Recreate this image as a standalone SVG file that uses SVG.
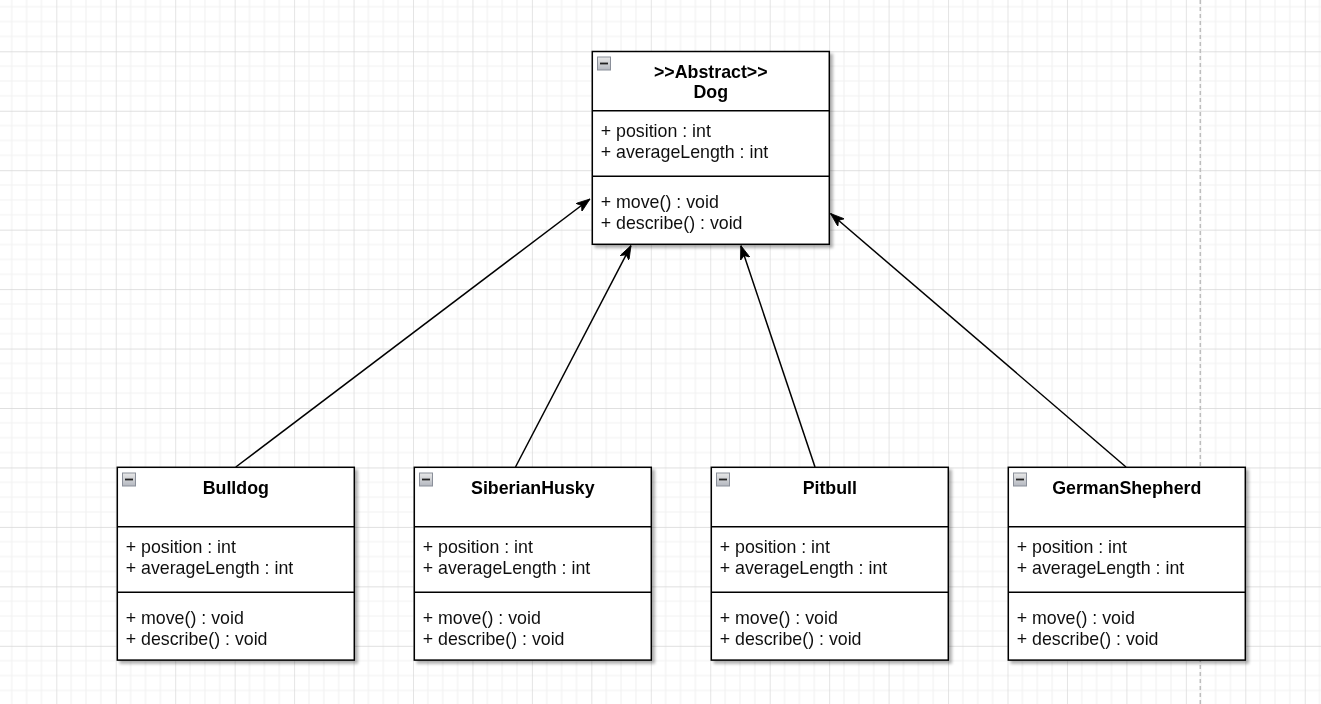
<svg xmlns="http://www.w3.org/2000/svg" width="1321" height="704" viewBox="0 0 1321 704">
<style>
.box{fill:#fff;stroke:#000;stroke-width:1.5}
.div{stroke:#000;stroke-width:1.5}
.hd{font-family:"Liberation Sans",Arial,sans-serif;font-weight:bold;font-size:17.8px;text-anchor:middle;fill:#000}
.tx{font-family:"Liberation Sans",Arial,sans-serif;font-size:17.8px;fill:#111}
.icon{fill:url(#ig);stroke:#8a8f99;stroke-width:1}
.dash{stroke:#222;stroke-width:1.8}
.conn{stroke:#000;stroke-width:1.5;fill:none;marker-end:url(#arr)}
.node{filter:url(#sh)}
</style>
<defs>
<pattern id="grid" patternUnits="userSpaceOnUse" x="56.3" y="51.3" width="59.45" height="59.45">
<path d="M14.86 0V59.45M29.73 0V59.45M44.59 0V59.45M0 14.86H59.45M0 29.73H59.45M0 44.59H59.45" stroke="#f2f2f2" stroke-width="1.2" fill="none"/>
<path d="M0 0V59.45M0 0H59.45" stroke="#d6d6d6" stroke-width="1.3" fill="none"/>
</pattern>
<linearGradient id="ig" x1="0" y1="0" x2="0" y2="1">
<stop offset="0" stop-color="#e8e8e8"/>
<stop offset="1" stop-color="#b4b8c0"/>
</linearGradient>
<filter id="sh" x="-10%" y="-10%" width="125%" height="125%">
<feGaussianBlur in="SourceAlpha" stdDeviation="1.8"/>
<feOffset dx="3" dy="3" result="b"/>
<feComponentTransfer in="b" result="s"><feFuncA type="linear" slope="0.3"/></feComponentTransfer>
<feMerge><feMergeNode in="s"/><feMergeNode in="SourceGraphic"/></feMerge>
</filter>
<marker id="arr" markerUnits="userSpaceOnUse" viewBox="0 0 14 10" refX="14" refY="5" markerWidth="14" markerHeight="10" orient="auto">
<path d="M0,0 L14,5 L0,10 L3.5,5 Z" fill="#000" stroke="#000" stroke-width="0.8"/>
</marker>
</defs>
<rect width="1321" height="704" fill="#fff"/>
<rect width="1321" height="704" fill="url(#grid)"/>
<line x1="1200.3" y1="0" x2="1200.3" y2="704" stroke="#bdbdbd" stroke-width="1.5" stroke-dasharray="4 3"/>

<g id="connectors">
<line class="conn" x1="235.8" y1="467" x2="590" y2="199"/>
<line class="conn" x1="515.5" y1="467" x2="631" y2="245.5"/>
<line class="conn" x1="815" y1="467" x2="740.8" y2="245.5"/>
<line class="conn" x1="1126" y1="467" x2="830.5" y2="213.5"/>
</g>

<g id="dog" class="node">
<rect class="box" x="592.3" y="51.5" width="237" height="192.8"/>
<line class="div" x1="592.3" y1="110.8" x2="829.3" y2="110.8"/>
<line class="div" x1="592.3" y1="176.3" x2="829.3" y2="176.3"/>
<rect class="icon" x="597.5" y="57" width="13" height="13"/>
<line class="dash" x1="600" y1="63.5" x2="608" y2="63.5"/>
<text class="hd" x="710.8" y="77.8">&gt;&gt;Abstract&gt;&gt;</text>
<text class="hd" x="710.8" y="98.2">Dog</text>
<text class="tx" x="600.7" y="137">+ position : int</text>
<text class="tx" x="600.7" y="158">+ averageLength : int</text>
<text class="tx" x="600.7" y="207.5">+ move() : void</text>
<text class="tx" x="600.7" y="228.5">+ describe() : void</text>
</g>

<g id="bulldog" class="node">
<rect class="box" x="117.3" y="467.3" width="237" height="192.8"/>
<line class="div" x1="117.3" y1="526.8" x2="354.3" y2="526.8"/>
<line class="div" x1="117.3" y1="592.3" x2="354.3" y2="592.3"/>
<rect class="icon" x="122.5" y="473" width="13" height="13"/>
<line class="dash" x1="125" y1="479.5" x2="133" y2="479.5"/>
<text class="hd" x="235.8" y="493.5">Bulldog</text>
<text class="tx" x="125.7" y="553">+ position : int</text>
<text class="tx" x="125.7" y="574">+ averageLength : int</text>
<text class="tx" x="125.7" y="623.5">+ move() : void</text>
<text class="tx" x="125.7" y="644.5">+ describe() : void</text>
</g>

<g id="siberianhusky" class="node">
<rect class="box" x="414.3" y="467.3" width="237" height="192.8"/>
<line class="div" x1="414.3" y1="526.8" x2="651.3" y2="526.8"/>
<line class="div" x1="414.3" y1="592.3" x2="651.3" y2="592.3"/>
<rect class="icon" x="419.5" y="473" width="13" height="13"/>
<line class="dash" x1="422" y1="479.5" x2="430" y2="479.5"/>
<text class="hd" x="532.8" y="493.5">SiberianHusky</text>
<text class="tx" x="422.7" y="553">+ position : int</text>
<text class="tx" x="422.7" y="574">+ averageLength : int</text>
<text class="tx" x="422.7" y="623.5">+ move() : void</text>
<text class="tx" x="422.7" y="644.5">+ describe() : void</text>
</g>

<g id="pitbull" class="node">
<rect class="box" x="711.3" y="467.3" width="237" height="192.8"/>
<line class="div" x1="711.3" y1="526.8" x2="948.3" y2="526.8"/>
<line class="div" x1="711.3" y1="592.3" x2="948.3" y2="592.3"/>
<rect class="icon" x="716.5" y="473" width="13" height="13"/>
<line class="dash" x1="719" y1="479.5" x2="727" y2="479.5"/>
<text class="hd" x="829.8" y="493.5">Pitbull</text>
<text class="tx" x="719.7" y="553">+ position : int</text>
<text class="tx" x="719.7" y="574">+ averageLength : int</text>
<text class="tx" x="719.7" y="623.5">+ move() : void</text>
<text class="tx" x="719.7" y="644.5">+ describe() : void</text>
</g>

<g id="germanshepherd" class="node">
<rect class="box" x="1008.3" y="467.3" width="237" height="192.8"/>
<line class="div" x1="1008.3" y1="526.8" x2="1245.3" y2="526.8"/>
<line class="div" x1="1008.3" y1="592.3" x2="1245.3" y2="592.3"/>
<rect class="icon" x="1013.5" y="473" width="13" height="13"/>
<line class="dash" x1="1016" y1="479.5" x2="1024" y2="479.5"/>
<text class="hd" x="1126.8" y="493.5">GermanShepherd</text>
<text class="tx" x="1016.7" y="553">+ position : int</text>
<text class="tx" x="1016.7" y="574">+ averageLength : int</text>
<text class="tx" x="1016.7" y="623.5">+ move() : void</text>
<text class="tx" x="1016.7" y="644.5">+ describe() : void</text>
</g>
</svg>
